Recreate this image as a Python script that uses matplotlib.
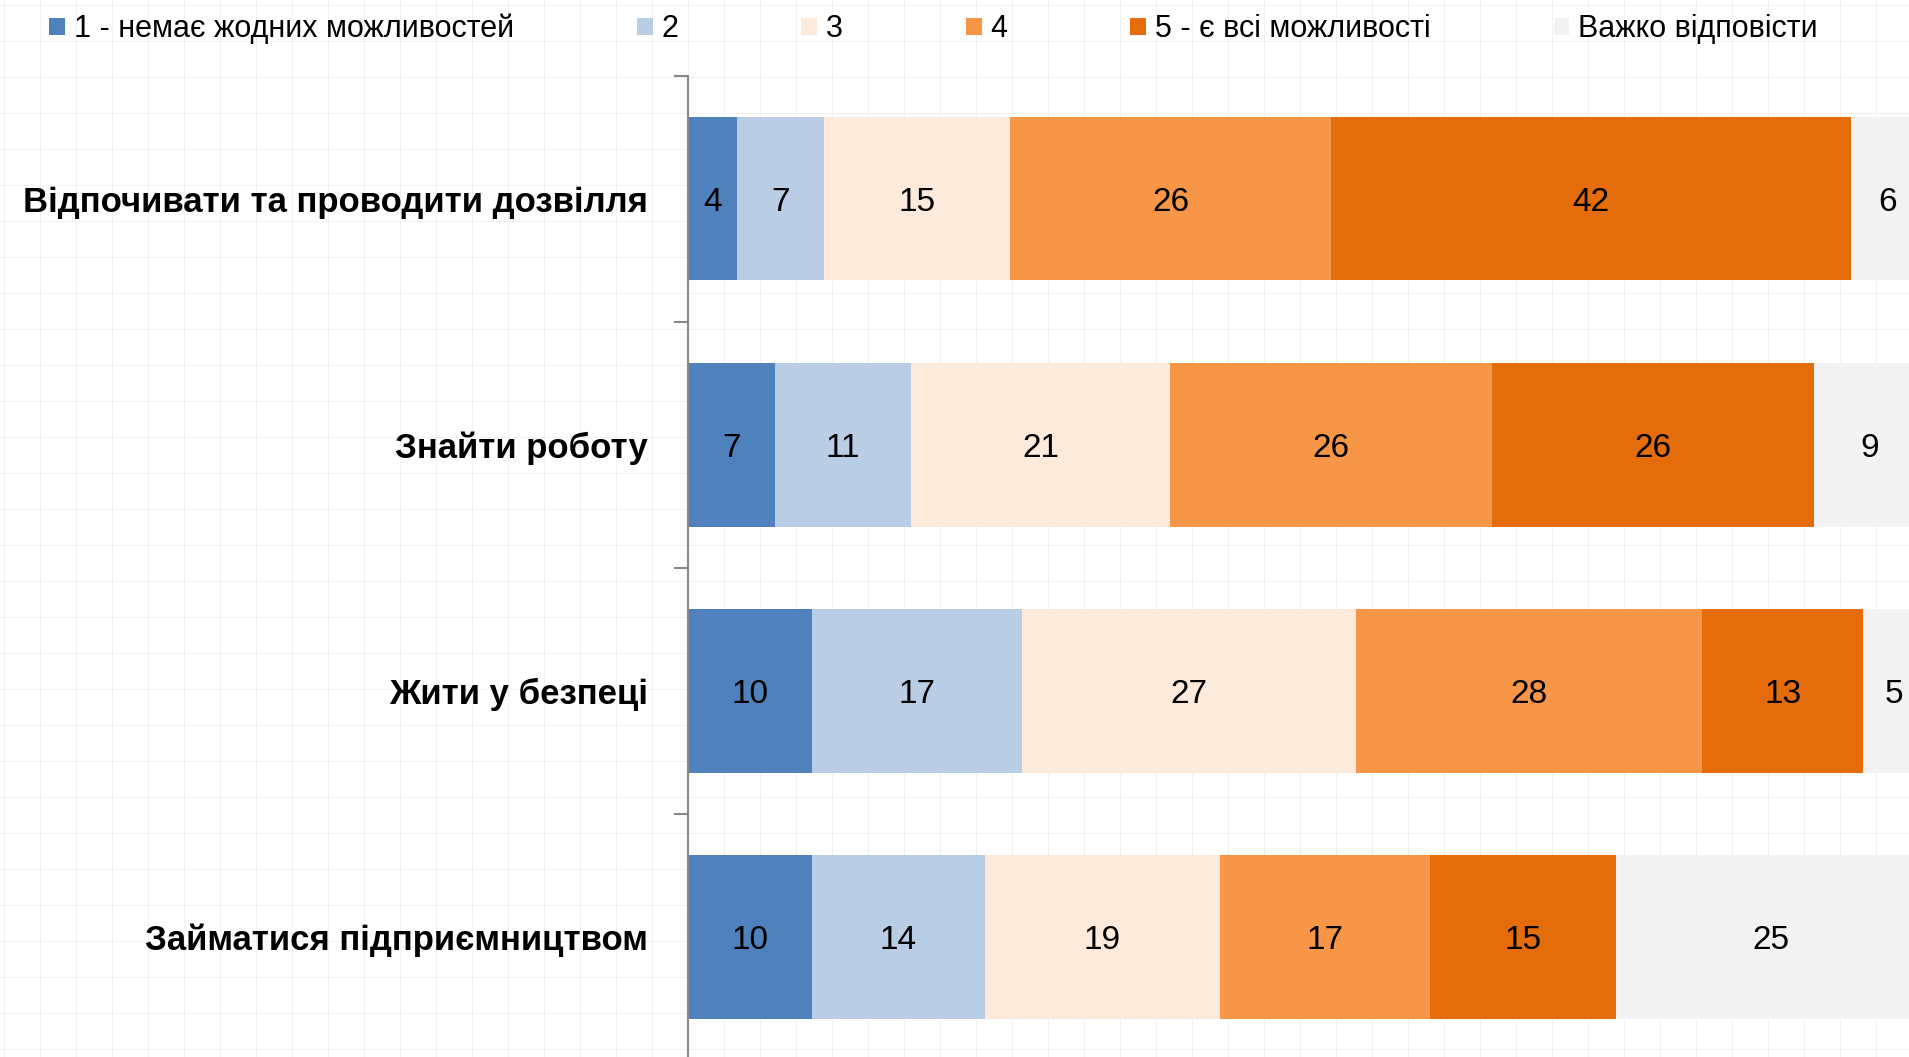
import matplotlib
matplotlib.use("Agg")
import matplotlib.pyplot as plt
from matplotlib.patches import Patch
import numpy as np

categories = ["Відпочивати та проводити дозвілля", "Знайти роботу",
              "Жити у безпеці", "Займатися підприємництвом"]
series_names = ["1 - немає жодних можливостей", "2", "3", "4",
                "5 - є всі можливості", "Важко відповісти"]
s1 = [4, 7, 10, 10]
s2 = [7, 11, 17, 14]
s3 = [15, 21, 27, 19]
s4 = [26, 26, 28, 17]
s5 = [42, 26, 13, 15]
s6 = [6, 9, 5, 25]
colors = ["#4F81BD", "#B9CDE5", "#FDEADA", "#F79646", "#E46C0A", "#F2F2F2"]

FONT = ["Liberation Sans Narrow", "Liberation Sans", "DejaVu Sans"]
plt.rcParams["font.family"] = FONT

W, H = 1909, 1057
fig = plt.figure(figsize=(W / 100, H / 100), dpi=100)

# faint graph-paper background
bg = fig.add_axes([0, 0, 1, 1], zorder=-10)
bg.set_xlim(0, W); bg.set_ylim(0, H); bg.axis("off")
for x in np.arange(4, W, 36):
    bg.axvline(x, color="#f1f1f1", lw=0.7)
for y in np.arange(8, H, 36):
    bg.axhline(y, color="#f1f1f1", lw=0.7)

ax = fig.add_axes([688 / W, -3 / H, 1 - 688 / W, (1060 - 75.5) / H])
ax.patch.set_alpha(0)

data = [s1, s2, s3, s4, s5, s6]
y = np.arange(len(categories))
left = np.zeros(len(categories))
for vals, c, name in zip(data, colors, series_names):
    vals = np.array(vals, dtype=float)
    ax.barh(y, vals, left=left, height=0.665, color=c, label=name, zorder=2)
    for yi, l, v in zip(y, left, vals):
        ax.text(l + v / 2, yi, f"{int(v)}", ha="center", va="center_baseline",
                fontsize=24, color="black", clip_on=False, zorder=3)
    left += vals

ax.set_xlim(0, 98.7)
ax.set_ylim(3.5, -0.5)
ax.set_yticks(y)
ax.set_yticklabels(categories, fontsize=25, fontweight="bold")
ax.tick_params(axis="y", which="major", length=0, pad=29)
ax.set_yticks(np.arange(-0.5, 4.0, 1.0), minor=True)
ax.tick_params(axis="y", which="minor", length=10, width=1.5, color="#888888")
ax.set_xticks([])
for s in ["top", "right", "bottom"]:
    ax.spines[s].set_visible(False)
ax.spines["left"].set_color("#888888")
ax.spines["left"].set_linewidth(1.5)

handles = [Patch(facecolor=c, edgecolor="none") for c in colors]
fig.legend(handles, series_names, loc="center left",
           bbox_to_anchor=(49 / W, 1 - 29 / H), ncol=6, frameon=False,
           fontsize=22, handlelength=0.52, handleheight=0.52,
           handletextpad=0.29, columnspacing=4.02, borderpad=0,
           borderaxespad=0)

fig.savefig("out.png", dpi=100)
